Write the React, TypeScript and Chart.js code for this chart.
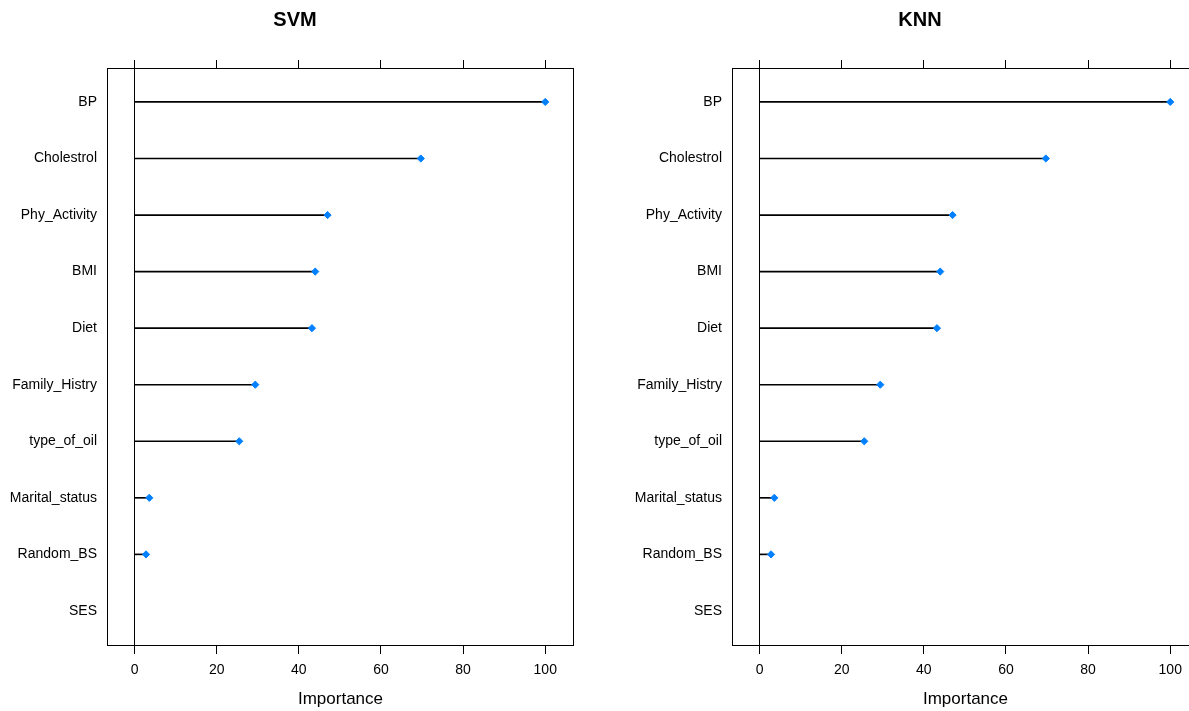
import React, { useEffect, useRef } from "react";
import { Chart, registerables } from "chart.js";

Chart.register(...registerables);

const features = [
  "BP",
  "Cholestrol",
  "Phy_Activity",
  "BMI",
  "Diet",
  "Family_Histry",
  "type_of_oil",
  "Marital_status",
  "Random_BS",
  "SES",
];
const svmImportance: (number | null)[] = [100, 69.7, 47.0, 44.0, 43.2, 29.4, 25.5, 3.6, 2.8, null];
const knnImportance: (number | null)[] = [100, 69.7, 47.0, 44.0, 43.2, 29.4, 25.5, 3.6, 2.8, null];
const xTickValues = [0, 20, 40, 60, 80, 100];

const FONT = "'Liberation Sans', Arial, Helvetica, sans-serif";

const framePlugin = {
  id: "frame",
  afterDraw(chart: any) {
    const { ctx, chartArea } = chart;
    const l = Math.round(chartArea.left) + 0.5;
    const t = Math.round(chartArea.top) + 0.5;
    const r = Math.round(chartArea.right) - 0.5;
    const b = Math.round(chartArea.bottom) - 0.5;
    ctx.save();
    ctx.strokeStyle = "#000";
    ctx.lineWidth = 1;
    ctx.strokeRect(l, t, r - l, b - t);
    ctx.restore();
  },
};

const panelTitlePlugin = {
  id: "panelTitle",
  afterDraw(chart: any, _args: any, opts: any) {
    const { ctx, chartArea } = chart;
    ctx.save();
    ctx.fillStyle = "#000";
    ctx.font = `bold 20px ${FONT}`;
    ctx.textAlign = "center";
    ctx.textBaseline = "middle";
    ctx.fillText(opts.text, (chartArea.right + 16) / 2, 20);
    ctx.restore();
  },
};

function Panel({ title, values }: { title: string; values: (number | null)[] }) {
  const ref = useRef<HTMLCanvasElement>(null);
  useEffect(() => {
    if (!ref.current) return;
    const pts = values
      .map((v, i) => (v === null ? null : { x: v, y: i }))
      .filter((p) => p !== null) as { x: number; y: number }[];
    const setTicks = (scale: any) => {
      scale.ticks = xTickValues.map((v) => ({ value: v }));
    };
    const chart = new Chart(ref.current, {
      type: "scatter",
      data: {
        datasets: [
          {
            type: "scatter",
            data: pts,
            pointStyle: "rectRot",
            pointRadius: 3.6,
            pointBackgroundColor: "#0080FF",
            pointBorderColor: "#0080FF",
            pointBorderWidth: 1,
            order: 0,
          } as any,
          {
            type: "bar",
            indexAxis: "y",
            data: pts,
            backgroundColor: "#000",
            borderWidth: 0,
            barThickness: 1,
            order: 1,
          } as any,
        ],
      },
      options: {
        responsive: false,
        animation: false,
        layout: { padding: { left: 0, right: 26, top: 60, bottom: 0 } },
        plugins: {
          legend: { display: false },
          tooltip: { enabled: false },
          title: { display: false },
          panelTitle: { text: title },
        },
        scales: {
          x: {
            type: "linear",
            position: "bottom",
            min: -6.7,
            max: 107,
            offset: false,
            afterBuildTicks: setTicks,
            afterFit: (s: any) => {
              s.height = 65;
            },
            border: { display: false },
            grid: {
              color: (c: any) => (c.tick && c.tick.value === 0 ? "#000" : "rgba(0,0,0,0)"),
              tickColor: "#000",
              tickLength: 8,
              lineWidth: 1,
              drawOnChartArea: true,
              offset: false,
            },
            ticks: {
              color: "#000",
              padding: 8,
              maxRotation: 0,
              font: { family: FONT, size: 14 },
              callback: (v: any) => String(v),
            },
            title: {
              display: true,
              text: "Importance",
              color: "#000",
              font: { family: FONT, size: 17 },
              padding: { top: 0, bottom: 1 },
            },
          },
          x2: {
            type: "linear",
            position: "top",
            min: -6.7,
            max: 107,
            offset: false,
            afterBuildTicks: setTicks,
            afterFit: (s: any) => {
              s.height = 8;
            },
            border: { display: false },
            grid: {
              color: "#000",
              tickColor: "#000",
              tickLength: 8,
              drawOnChartArea: false,
              offset: false,
            },
            ticks: { display: false },
          },
          y: {
            type: "linear",
            position: "left",
            reverse: true,
            offset: false,
            min: -0.6,
            max: 9.62,
            afterBuildTicks: (scale: any) => {
              scale.ticks = features.map((_, i) => ({ value: i }));
            },
            afterFit: (s: any) => {
              s.width = 107;
            },
            border: { display: false },
            grid: { display: false, drawTicks: false, offset: false },
            ticks: {
              color: "#000",
              padding: 10,
              autoSkip: false,
              font: { family: FONT, size: 14 },
              callback: (v: any) => features[Math.round(Number(v))] ?? "",
            },
          },
        },
      } as any,
      plugins: [framePlugin, panelTitlePlugin],
    });
    return () => chart.destroy();
  }, [title, values]);
  return <canvas ref={ref} width={600} height={711} style={{ display: "block" }} />;
}

export default function App() {
  return (
    <div
      style={{
        position: "fixed",
        left: 0,
        top: 0,
        width: 1189,
        height: 711,
        overflow: "hidden",
        background: "#fff",
      }}
    >
      <div style={{ position: "absolute", left: 0, top: 0, width: 600, height: 711 }}>
        <Panel title="SVM" values={svmImportance} />
      </div>
      <div style={{ position: "absolute", left: 625, top: 0, width: 600, height: 711 }}>
        <Panel title="KNN" values={knnImportance} />
      </div>
    </div>
  );
}
